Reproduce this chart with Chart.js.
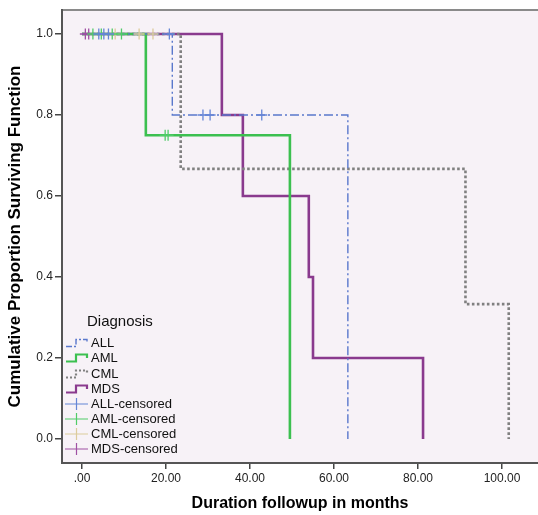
<!DOCTYPE html>
<html><head><meta charset="utf-8">
<script src="https://cdn.jsdelivr.net/npm/chart.js@4"></script>
<style>html,body{margin:0;padding:0;background:#fff}#wrap{width:538px;height:515px;position:relative}</style>
</head><body><div id="wrap"><canvas id="c" width="538" height="515"></canvas></div>
<script>
// ---- data ----
const seriesNames = ['ALL', 'AML', 'CML', 'MDS'];
const ALL_t = [0, 21.5, 63.3];
const ALL_s = [1, 0.8, 0];
const AML_t = [0, 15.2, 49.5];
const AML_s = [1, 0.75, 0];
const CML_t = [0, 23.5, 91.3, 101.6];
const CML_s = [1, 0.667, 0.333, 0];
const MDS_t = [0, 33.3, 38.3, 54.0, 55.0, 81.2];
const MDS_s = [1, 0.8, 0.6, 0.4, 0.2, 0];
const ALL_cens_t = [4.0, 5.2, 6.3, 20.8, 28.8, 30.5, 42.8];
const ALL_cens_s = [1, 1, 1, 1, 0.8, 0.8, 0.8];
const AML_cens_t = [2.6, 4.6, 7.2, 9.4, 19.8, 20.5];
const AML_cens_s = [1, 1, 1, 1, 0.75, 0.75];
const CML_cens_t = [7.9, 13.6, 16.9];
const CML_cens_s = [1, 1, 1];
const MDS_cens_t = [0.8, 1.6];
const MDS_cens_s = [1, 1];
const xTicks = [0, 20, 40, 60, 80, 100];
const xTickLabels = ['.00', '20.00', '40.00', '60.00', '80.00', '100.00'];
const yTicks = [0, 0.2, 0.4, 0.6, 0.8, 1.0];
const yTickLabels = ['0.0', '0.2', '0.4', '0.6', '0.8', '1.0'];
const legendTitle = 'Diagnosis';
const legendLabels = ['ALL', 'AML', 'CML', 'MDS', 'ALL-censored', 'AML-censored', 'CML-censored', 'MDS-censored'];

// ---- styles ----
const COL = { ALL: '#5a78cc', AML: '#3cc050', CML: '#808080', MDS: '#8a3a8e' };
const CCOL = { ALL: '#6585d6', AML: '#50cc68', CML: '#dccb9c', MDS: '#a050a4' };
const DASH = { ALL: [9, 3, 2, 3], AML: [], CML: [2.6, 2.4], MDS: [] };
const WID = { ALL: 1.4, AML: 2.6, CML: 2.6, MDS: 2.6 };
const FONT = '"Liberation Sans", Arial, sans-serif';

const pts = (t, s) => t.map((v, i) => ({ x: v, y: s[i] }));
const curves = [pts(ALL_t, ALL_s), pts(AML_t, AML_s), pts(CML_t, CML_s), pts(MDS_t, MDS_s)];
const cens = [pts(ALL_cens_t, ALL_cens_s), pts(AML_cens_t, AML_cens_s), pts(CML_cens_t, CML_cens_s), pts(MDS_cens_t, MDS_cens_s)];

const datasets = [];
seriesNames.forEach((n, i) => {
  datasets.push({
    label: n, data: curves[i], showLine: true, stepped: 'before',
    borderColor: COL[n], borderWidth: WID[n], borderDash: DASH[n], borderCapStyle: 'butt',
    pointRadius: 0, pointHoverRadius: 0, fill: false, order: 2
  });
});
seriesNames.forEach((n, i) => {
  datasets.push({
    label: n + '-censored', data: cens[i], showLine: false,
    pointStyle: 'cross', pointRadius: 5.5, pointBorderWidth: 1.3,
    pointBorderColor: CCOL[n], pointBackgroundColor: CCOL[n], order: 1
  });
});

const bgPlugin = {
  id: 'bg',
  beforeDraw(chart) {
    const { ctx, chartArea: a } = chart;
    ctx.save();
    ctx.fillStyle = '#f7f2f7';
    ctx.fillRect(a.left, a.top, a.right - a.left, a.bottom - a.top);
    ctx.strokeStyle = '#8a8a8a';
    ctx.lineWidth = 2;
    ctx.beginPath(); ctx.moveTo(a.left, a.top); ctx.lineTo(a.right, a.top); ctx.stroke();
    ctx.restore();
  },
  afterDraw(chart) {
    const { ctx } = chart;
    ctx.save();
    ctx.fillStyle = '#111';
    ctx.textBaseline = 'middle';
    ctx.font = '15px ' + FONT;
    ctx.fillText(legendTitle, 87, 322);
    ctx.font = '13px ' + FONT;
    const rowY = [343, 358, 374, 389, 404, 419, 434, 449];
    legendLabels.forEach((lab, i) => {
      const y = rowY[i];
      ctx.save();
      if (i < 4) {
        const n = seriesNames[i];
        ctx.strokeStyle = COL[n];
        ctx.lineWidth = Math.min(WID[n], 2.2);
        ctx.setLineDash(i === 0 ? [6, 2, 2, 2] : (i === 2 ? [2, 2] : []));
        ctx.beginPath();
        ctx.moveTo(66, y + 3.5); ctx.lineTo(76, y + 3.5); ctx.lineTo(76, y - 3.5);
        ctx.lineTo(87, y - 3.5); ctx.lineTo(87, y);
        ctx.stroke();
      } else {
        const n = seriesNames[i - 4];
        ctx.strokeStyle = CCOL[n];
        ctx.lineWidth = 1.2;
        ctx.beginPath();
        ctx.moveTo(65, y); ctx.lineTo(88, y);
        ctx.moveTo(76.5, y - 6); ctx.lineTo(76.5, y + 6);
        ctx.stroke();
      }
      ctx.restore();
      ctx.fillText(lab, 91, y);
    });
    ctx.restore();
  }
};

new Chart(document.getElementById('c'), {
  type: 'scatter',
  data: { datasets },
  options: {
    responsive: false, animation: false, devicePixelRatio: 1,
    layout: { autoPadding: false, padding: { top: 10, right: 0, left: 0, bottom: 0 } },
    plugins: { legend: { display: false }, tooltip: { enabled: false } },
    scales: {
      x: {
        type: 'linear', min: -4.76, max: 108.57,
        afterBuildTicks(s) { s.ticks = xTicks.map(v => ({ value: v })); },
        afterFit(s) { s.height = 52; s.paddingLeft = 0; s.paddingRight = 0; },
        ticks: { callback: v => xTickLabels[xTicks.indexOf(v)], font: { family: FONT, size: 12 }, color: '#222', padding: 2, maxRotation: 0, autoSkip: false },
        grid: { drawOnChartArea: false, drawTicks: true, tickLength: 6, color: '#444', lineWidth: 1.5 },
        border: { display: true, color: '#555', width: 2 },
        title: { display: true, text: 'Duration followup in months', font: { family: FONT, size: 16, weight: 'bold' }, color: '#000', padding: { top: 0, bottom: 1.4 } }
      },
      y: {
        type: 'linear', min: -0.0593, max: 1.0593,
        afterBuildTicks(s) { s.ticks = yTicks.map(v => ({ value: v })); },
        afterFit(s) { s.width = 62; s.paddingTop = 0; s.paddingBottom = 0; },
        ticks: { callback: v => yTickLabels[yTicks.findIndex(t => Math.abs(t - v) < 1e-9)], font: { family: FONT, size: 12 }, color: '#222', padding: 2, autoSkip: false },
        grid: { drawOnChartArea: false, drawTicks: true, tickLength: 7, color: '#444', lineWidth: 1.5 },
        border: { display: true, color: '#555', width: 2 },
        title: { display: true, text: 'Cumulative Proportion Surviving Function', font: { family: FONT, size: 17, weight: 'bold' }, color: '#000', padding: { top: 5.4, bottom: 0 } }
      }
    }
  },
  plugins: [bgPlugin]
});
</script>
</body></html>
